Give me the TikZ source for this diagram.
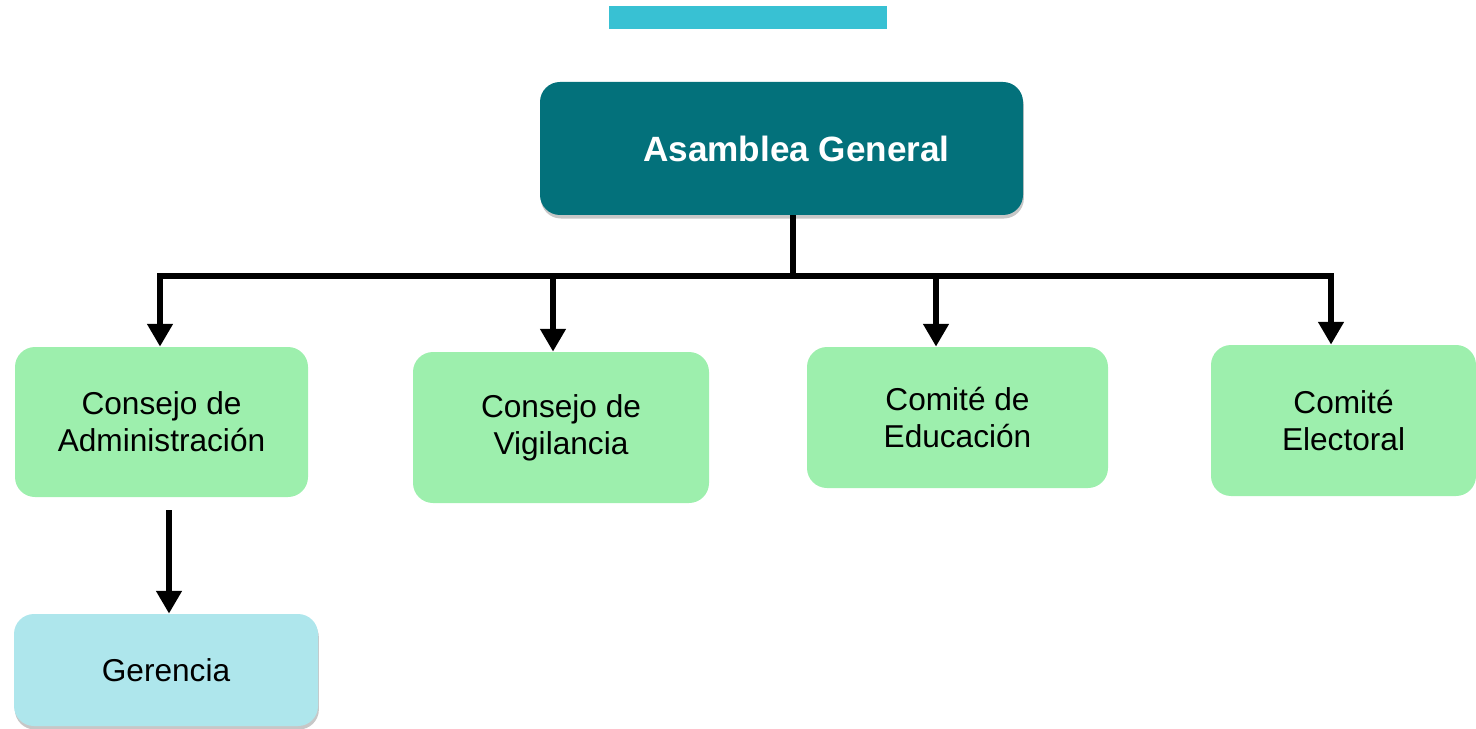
\documentclass[tikz,border=0pt]{standalone}
\usepackage{fontspec}
\setmainfont{Liberation Sans}
\usetikzlibrary{arrows.meta,shadows,positioning}
\definecolor{teal1}{HTML}{03717B}
\definecolor{cyanbar}{HTML}{38C1D3}
\definecolor{verde}{HTML}{9DEFAD}
\definecolor{celeste}{HTML}{AEE6EC}

\begin{document}
\begin{tikzpicture}[x=0.02cm,y=-0.02cm,
	box/.style={rectangle,rounded corners=0.4cm,inner sep=0pt,align=center,
		font=\fontsize{18}{21}\selectfont},
	sz/.style 2 args={minimum width=#1*0.02cm,minimum height=#2*0.02cm},
	sombra/.style={drop shadow={shadow xshift=0.5pt,shadow yshift=-2pt,opacity=0.22,fill=black}},
	flecha/.style={line width=3.6pt,-{Triangle[length=13pt,width=14pt]}}]
\useasboundingbox (0,0) rectangle (1476,729);

\fill[cyanbar] (609,6) rectangle (887,29);

\node (ag) at (781.5,148.5)[box,sz={483}{133},sombra,fill=teal1,text=white,
	font=\fontsize{20}{24}\selectfont\bfseries] {\hspace{17pt}Asamblea General};

\node (ca) at (161.5,422)[box,sz={293}{150},fill=verde] {Consejo de\\Administración};
\node (cv) at (561,427.5)[box,sz={296}{151},fill=verde] {Consejo de\\Vigilancia};
\node (ce) at (957.5,417.5)[box,sz={301}{141},fill=verde] {Comité de\\Educación};
\node (cel) at (1343.5,420.5)[box,sz={265}{151},fill=verde] {Comité\\Electoral};
\node (ger) at (166,670)[box,sz={304}{112},sombra,fill=celeste] {Gerencia};

\coordinate (j) at (793,276);
\coordinate (t1) at (160,276);
\coordinate (t2) at (553,276);
\coordinate (t3) at (936,276);
\coordinate (t4) at (1331,276);
\coordinate (g0) at (169,510);

\draw[line width=3.2pt] (ag.south -| j) -- (j);
\draw[line width=3.2pt,line cap=rect] (t1) -- (t4);

\draw[flecha] (t1) -- (t1 |- ca.north);
\draw[flecha] (t2) -- (t2 |- cv.north);
\draw[flecha] (t3) -- (t3 |- ce.north);
\draw[flecha] (t4) -- (t4 |- cel.north);

\draw[flecha] (g0) -- (g0 |- ger.north);
\end{tikzpicture}
\end{document}
